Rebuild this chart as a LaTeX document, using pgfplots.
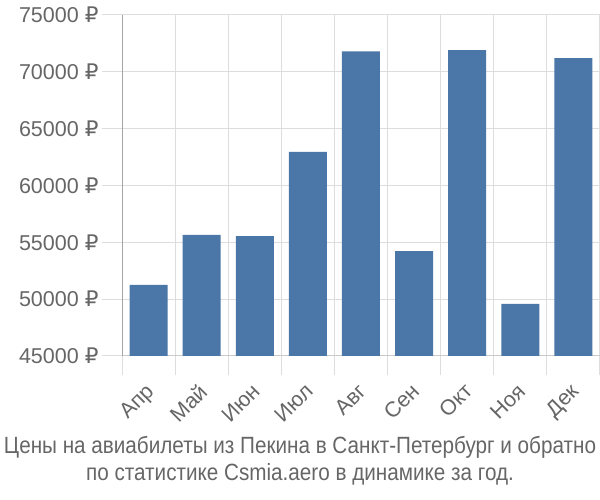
\documentclass[border=0pt]{standalone}
\usepackage{pgfplots}
\pgfplotsset{compat=1.18}
\usepackage{fontspec}
\setmainfont{Liberation Sans}
\newfontfamily\titlefont[FakeStretch=0.88]{Liberation Sans}
\newfontfamily\dv{DejaVu Sans}
\newcommand{\rub}{{\dv ₽}}
\definecolor{barc}{HTML}{4A77A7}
\definecolor{txt}{HTML}{666666}
\definecolor{gridc}{HTML}{DDDDDD}
\begin{document}
\begin{tikzpicture}[x=1pt,y=1pt]
\path[use as bounding box] (0,0) rectangle (600,500);
\begin{axis}[
  at={(122pt,144pt)}, anchor=south west,
  scale only axis, width=478pt, height=341pt,
  xmin=-0.5, xmax=8.5, ymin=45000, ymax=75000,
  scaled y ticks=false,
  axis x line*=bottom, axis y line*=left,
  x axis line style={draw=gridc!80!gray, line width=1pt},
  y axis line style={draw=gray!70, line width=1pt},
  xtick={0,...,8},
  xticklabels={Апр,Май,Июн,Июл,Авг,Сен,Окт,Ноя,Дек},
  major x tick style={draw=none},
  minor xtick={-0.5,0.5,...,8.5},
  minor x tick style={draw=gridc, line width=1pt},
  minor tick length=19pt,
  xminorgrids, minor grid style={draw=gridc, line width=1pt},
  ytick={45000,50000,...,75000},
  yticklabels={45000 \rub,50000 \rub,55000 \rub,60000 \rub,65000 \rub,70000 \rub,75000 \rub},
  ymajorgrids, major grid style={draw=gridc, line width=1pt},
  major y tick style={draw=gridc, line width=1pt},
  major tick length=20pt,
  tick align=outside,
  tick label style={font=\fontsize{21.5}{24}\selectfont, text=txt},
  yticklabel style={anchor=east, xshift=0pt},
  xticklabel style={rotate=45, anchor=north east, xshift=-4pt, yshift=2pt},
  ybar, bar width=38pt, bar shift=0pt,
  clip=false,
]
\addplot[fill=barc, draw=none] coordinates {
  (0,51250) (1,55650) (2,55550) (3,62950) (4,71800) (5,54230) (6,71900) (7,49580) (8,71200)
};
\end{axis}
\node[text=txt, font=\titlefont\fontsize{23.5}{26}\selectfont] at (300,53) {Цены на авиабилеты из Пекина в Санкт-Петербург и обратно};
\node[text=txt, font=\titlefont\fontsize{23.5}{26}\selectfont] at (300,26) {по статистике Csmia.aero в динамике за год.};
\end{tikzpicture}
\end{document}
